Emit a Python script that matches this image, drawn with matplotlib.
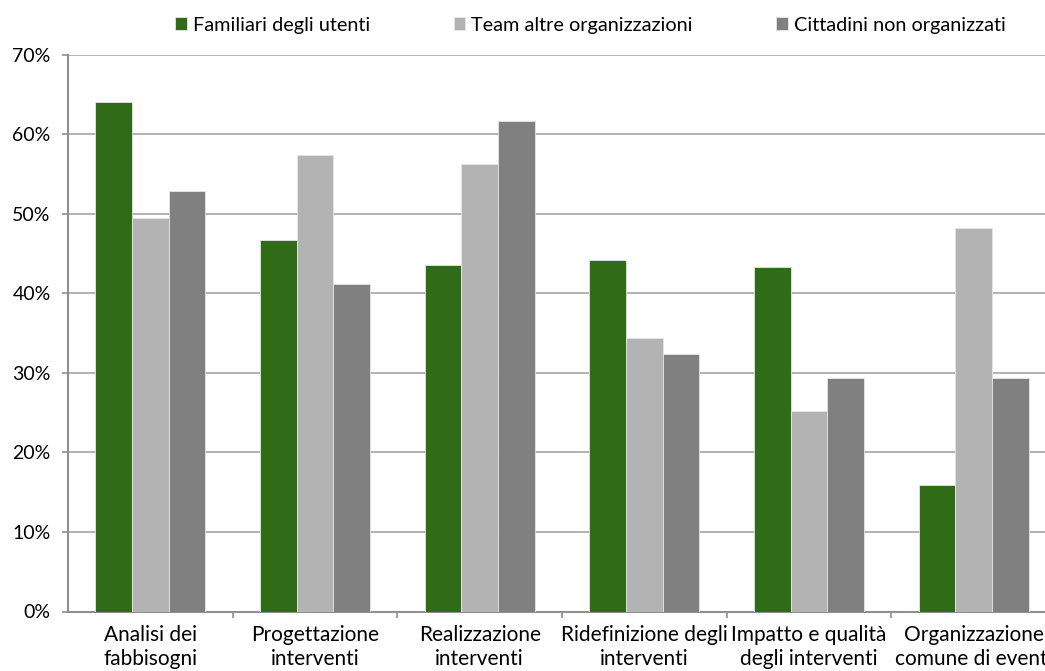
import numpy as np
import matplotlib.pyplot as plt
from matplotlib.ticker import PercentFormatter, FixedLocator

# dati (%)
categorie = ["Analisi dei\nfabbisogni", "Progettazione\ninterventi", "Realizzazione\ninterventi",
             "Ridefinizione degli\ninterventi", "Impatto e qualità\ndegli interventi",
             "Organizzazione\ncomune di eventi"]
familiari = [64.0, 46.7, 43.6, 44.2, 43.3, 15.9]
team_altre = [49.4, 57.4, 56.3, 34.4, 25.2, 48.2]
cittadini = [52.9, 41.1, 61.7, 32.3, 29.4, 29.4]

serie = ["Familiari degli utenti", "Team altre organizzazioni", "Cittadini non organizzati"]
colori = ["#306b17", "#b3b3b3", "#808080"]

plt.rcParams['font.family'] = ['Lato', 'DejaVu Sans']

fig = plt.figure(figsize=(10.45, 6.71), dpi=100)
# l'area del grafico esce a destra, come nell'originale
ax = fig.add_axes([68 / 1045, 59.5 / 671, 988 / 1045, 557 / 671])

x = np.arange(len(categorie))
w = 1 / 4.5
for i, (vals, nome, col) in enumerate(zip([familiari, team_altre, cittadini], serie, colori)):
    ax.bar(x + (i - 1) * w, vals, w, color=col, label=nome, edgecolor="#e6e6e6", linewidth=0.6, zorder=3)

ax.set_xlim(-0.5, len(categorie) - 0.5)
ax.set_ylim(0, 70)
ax.set_yticks(np.arange(0, 71, 10))
ax.yaxis.set_major_formatter(PercentFormatter(decimals=0))
ax.grid(axis='y', color="#a6a6a6", linewidth=1.2, zorder=0)

ax.set_xticks(x)
ax.set_xticklabels(categorie, fontsize=15, linespacing=1.25)
ax.xaxis.set_minor_locator(FixedLocator(np.arange(0.5, len(categorie) - 0.5, 1)))
ax.tick_params(axis='x', which='major', length=0, pad=10)
ax.tick_params(axis='x', which='minor', length=4.5, width=1.2, color="#909090", direction='out')
ax.tick_params(axis='y', length=4.5, width=1.2, color="#909090", labelsize=14, pad=8)

for s in ['top', 'right']:
    ax.spines[s].set_visible(False)
for s in ['left', 'bottom']:
    ax.spines[s].set_color("#909090")
    ax.spines[s].set_linewidth(1.5)

fig.legend(loc='center left', bbox_to_anchor=(175 / 1045, 1 - 25 / 671), ncol=3, frameon=False,
           fontsize=14.3, handlelength=0.6, handleheight=0.6, handletextpad=0.3, columnspacing=4.2,
           borderpad=0, borderaxespad=0)

fig.savefig("out.png", dpi=100)
